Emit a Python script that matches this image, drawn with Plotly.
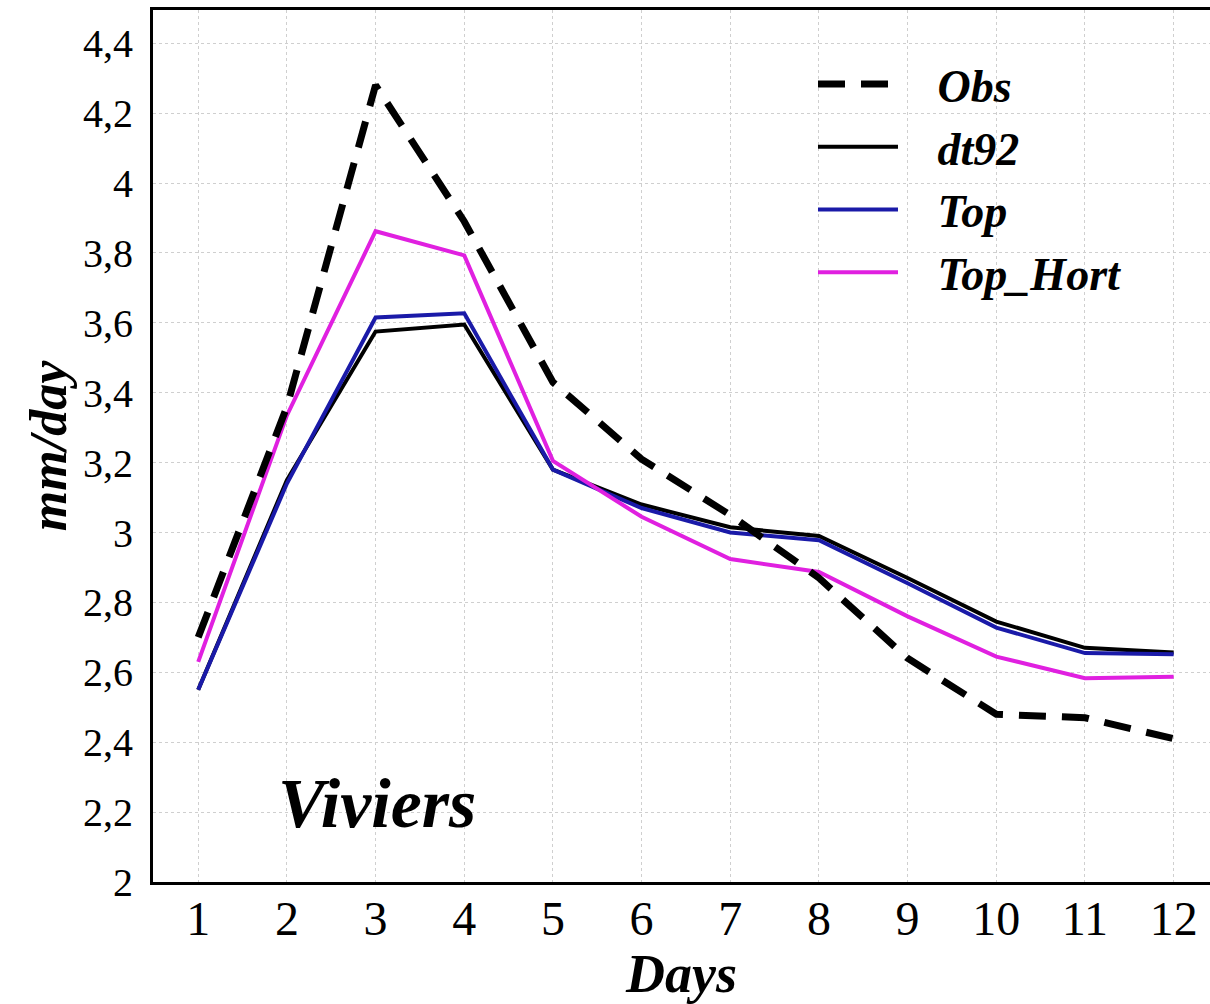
import plotly.graph_objects as go

days = [1, 2, 3, 4, 5, 6, 7, 8, 9, 10, 11, 12]
obs = [2.70, 3.36, 4.28, 3.89, 3.43, 3.21, 3.05, 2.87, 2.64, 2.48, 2.47, 2.41]
dt92 = [2.55, 3.15, 3.575, 3.595, 3.18, 3.08, 3.015, 2.99, 2.87, 2.745, 2.67, 2.657]
top = [2.55, 3.14, 3.615, 3.627, 3.18, 3.07, 3.0, 2.978, 2.855, 2.728, 2.655, 2.652]
top_hort = [2.63, 3.335, 3.862, 3.793, 3.205, 3.045, 2.924, 2.887, 2.76, 2.645, 2.583, 2.587]

y_ticks = [2.0, 2.2, 2.4, 2.6, 2.8, 3.0, 3.2, 3.4, 3.6, 3.8, 4.0, 4.2, 4.4]
y_tick_text = ["2", "2,2", "2,4", "2,6", "2,8", "3", "3,2", "3,4", "3,6", "3,8", "4", "4,2", "4,4"]

FONT = "Liberation Serif, Times New Roman, serif"
GAP = "\u00a0\u00a0\u00a0"

fig = go.Figure()
fig.add_trace(go.Scatter(x=days, y=dt92, mode="lines", name=GAP + "<b><i>dt92</i></b>",
                         line=dict(color="#000000", width=4), legendrank=2))
fig.add_trace(go.Scatter(x=days, y=top, mode="lines", name=GAP + "<b><i>Top</i></b>",
                         line=dict(color="#1a1aa8", width=4), legendrank=3))
fig.add_trace(go.Scatter(x=days, y=top_hort, mode="lines", name=GAP + "<b><i>Top_Hort</i></b>",
                         line=dict(color="#e020e0", width=4), legendrank=4))
fig.add_trace(go.Scatter(x=days, y=obs, mode="lines", name=GAP + "<b><i>Obs</i></b>",
                         line=dict(color="#000000", width=7, dash="27px,16px"), legendrank=1))

fig.add_annotation(x=3.02, y=2.225, xref="x", yref="y", text="<b><i>Viviers</i></b>",
                   showarrow=False, font=dict(family=FONT, size=70, color="#000"))

fig.update_layout(
    width=1210, height=1004,
    margin=dict(l=153, r=0, t=10, b=122),
    paper_bgcolor="white", plot_bgcolor="white",
    font=dict(family=FONT, color="#000"),
    showlegend=True,
    legend=dict(x=0.6244, y=0.957, xanchor="left", yanchor="top",
                font=dict(family=FONT, size=46, color="#000"),
                bgcolor="rgba(255,255,255,0)", itemwidth=80,
                tracegroupgap=0),
)
fig.update_xaxes(
    range=[0.49, 12.41], tickvals=days, ticktext=[str(d) for d in days],
    tickfont=dict(family=FONT, size=48), ticks="", ticklabelstandoff=-8,
    showline=True, linecolor="#000", linewidth=3, mirror=True,
    showgrid=True, gridcolor="#cfcfcf", gridwidth=1, griddash="dot",
    zeroline=False,
    title=dict(text="<b><i>Days</i></b>", font=dict(family=FONT, size=54), standoff=0),
)
fig.update_yaxes(
    range=[2.0, 4.495], tickvals=y_ticks, ticktext=y_tick_text,
    tickfont=dict(family=FONT, size=40), ticks="", ticklabelstandoff=9,
    showline=True, linecolor="#000", linewidth=3, mirror=False,
    showgrid=True, gridcolor="#cfcfcf", gridwidth=1, griddash="dot",
    zeroline=False,
    title=dict(text="<b><i>mm/day</i></b>", font=dict(family=FONT, size=52), standoff=0),
)

fig.write_html("out.html")
